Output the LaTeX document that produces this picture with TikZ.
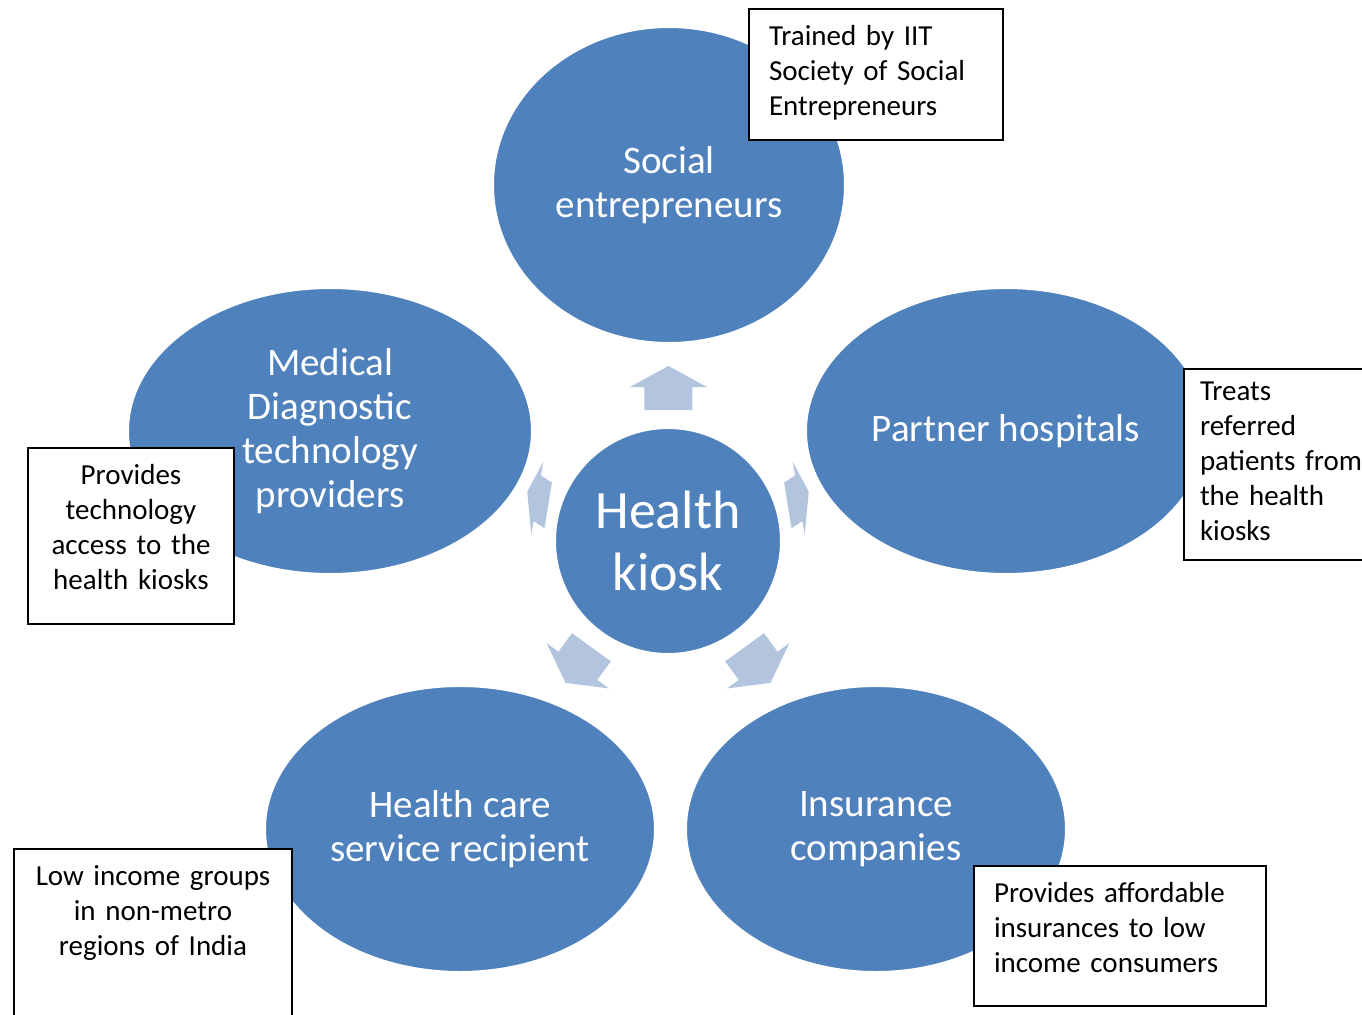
\documentclass[tikz,border=0pt]{standalone}
\usepackage{fontspec}
\setmainfont{Carlito}
\usetikzlibrary{shapes.geometric, calc}

\definecolor{bubble}{RGB}{79,129,189}
\definecolor{pointer}{RGB}{179,196,223}

\newcommand{\notefont}{\fontsize{14.5pt}{17.5pt}\selectfont}
\newcommand{\bubblefont}{\fontsize{19.5pt}{22pt}\selectfont}
\newcommand{\hubfont}{\fontsize{27pt}{31pt}\selectfont}

\begin{document}
\begin{tikzpicture}[x=0.5pt,y=-0.5pt,
  bubble node/.style={ellipse,fill=bubble,draw=white,line width=1pt,text=white,align=center,inner sep=0pt,font=\bubblefont},
  note node/.style={rectangle,draw=black,line width=1pt,fill=white,anchor=north west,inner ysep=0pt,text height=18pt,font=\notefont}]

\useasboundingbox (0,0) rectangle (1362,1014);

    \node[bubble node, circle, minimum size=113pt, font=\hubfont] (kiosk) at (668,541) {Health\\kiosk};
    \node[bubble node, minimum width=176pt, minimum height=158pt] (soc) at (669,185) {Social\\entrepreneurs};
    \node[bubble node, minimum width=202pt, minimum height=143pt] (med) at (330,431) {Medical\\Diagnostic\\technology\\providers};
    \node[bubble node, minimum width=200pt, minimum height=143pt] (hosp) at (1006,431) {Partner hospitals};
    \node[bubble node, minimum width=195pt, minimum height=143pt] (recip) at (460,829) {Health care\\service recipient};
    \node[bubble node, minimum width=190pt, minimum height=143pt] (ins) at (876,829) {Insurance\\companies};

    \foreach \tgt/\ang/\dist/\squeeze in {soc/90/76.5/1, hosp/18/68.5/0.5, ins/-54/76.5/1, recip/-126/76.5/1, med/162/68.5/0.5}
      \fill[pointer, shift={($(kiosk.center)!\dist pt!(\tgt.center)$)}, xscale=\squeeze, rotate=\ang]
        (-22,-24) -- (1,-24) -- (1,-38.5) -- (22,0) -- (1,38.5) -- (1,24) -- (-22,24) -- cycle;

    \node[note node, inner xsep=10pt, text width=107pt, align=left, text depth=47.5pt] (socnote) at (748,8) {Trained by IIT\\Society of Social\\Entrepreneurs};
    \node[note node, inner xsep=8pt, text width=100pt, align=left, text height=15.5pt, text depth=80pt] (hospnote) at (1183,368) {Treats\\referred\\patients from\\the health\\kiosks};
    \node[note node, inner xsep=0pt, text width=103pt, align=center, text depth=70pt] (mednote) at (27,447) {Provides\\technology\\access to the\\health kiosks};
    \node[note node, inner xsep=0pt, text width=139pt, align=center, text depth=80pt] (recipnote) at (13,848) {Low income groups\\in non-metro\\regions of India};
    \node[note node, inner xsep=10pt, text width=126pt, align=left, text depth=52pt] (insnote) at (973,865) {Provides affordable\\insurances to low\\income consumers};

\end{tikzpicture}
\end{document}
